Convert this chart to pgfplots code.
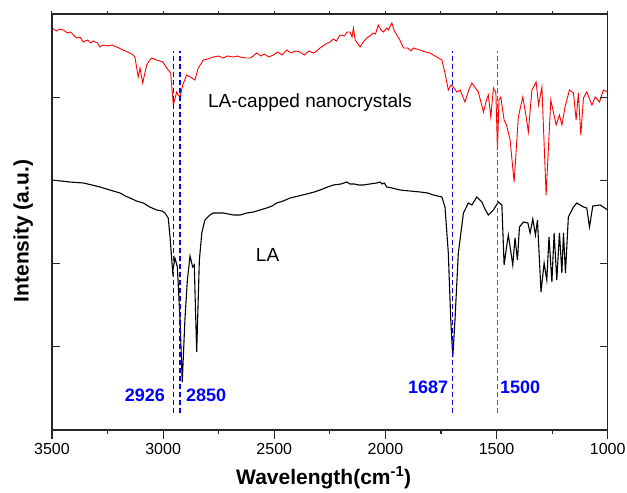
\documentclass[border=0pt]{standalone}
\usepackage{fontspec}
\setmainfont{Liberation Sans}
\usepackage{pgfplots}
\pgfplotsset{compat=1.18}
\usepackage{pgfplotstable}

\pgfplotstableread{
x y
3500 402
3480 399
3465 401
3449 400
3430 397
3415 398
3404 395
3390 392
3375 393
3359 388
3340 390
3325 387
3314 389
3295 387
3285 383
3269 385
3250 384
3230 385
3209 383
3190 381
3170 379
3149 377
3135 375
3127 373
3112 353
3104 362
3092 347
3074 365
3060 370
3051 372
3030 370
3015 369
3001 368
2984 362
2966 357
2954 325
2939 338
2932 335
2924 333
2912 345
2894 355
2871 352
2857 350
2842 362
2819 370
2800 371
2774 373
2750 374
2730 372
2710 374
2684 373
2665 374
2654 373
2630 372
2609 372
2595 374
2579 377
2560 374
2545 376
2525 373
2504 375
2485 378
2465 375
2444 380
2425 377
2405 379
2384 378
2364 375
2345 379
2324 377
2310 379
2294 382
2275 385
2260 387
2249 388
2235 391
2220 389
2204 395
2185 394
2172 398
2159 398
2150 393
2144 402
2136 390
2114 383
2100 388
2084 392
2070 394
2054 397
2045 396
2032 405
2020 400
2009 398
1995 402
1987 400
1978 404
1971 407
1962 400
1949 395
1935 390
1919 382
1900 382
1885 379
1874 382
1860 381
1844 380
1820 378
1799 377
1770 373
1746 370
1732 357
1717 340
1705 345
1694 343
1679 338
1664 340
1642 328
1625 340
1611 347
1595 342
1582 338
1559 318
1545 330
1537 335
1526 313
1514 342
1503 337
1496 280
1489 330
1481 333
1466 310
1455 305
1439 290
1421 248
1402 313
1382 333
1368 315
1357 298
1341 340
1322 348
1311 325
1296 343
1277 235
1256 330
1232 305
1217 315
1206 305
1192 323
1172 340
1154 337
1142 310
1132 337
1121 295
1109 332
1094 338
1071 325
1056 333
1037 328
1019 340
1000 338
}\redtable

\pgfplotstableread{
x y
3500 250
3460 249
3419 248
3390 247.5
3359 247
3320 245
3284 243
3240 240
3194 237
3170 234
3149 232
3120 229
3089 227
3060 223
3029 220
3005 219
2992 217
2977 212
2969 193
2957 158
2947 172
2936 163
2924 110
2914 48
2902 110
2891 150
2879 174
2867 163
2860 165
2849 78
2837 170
2826 197
2812 210
2790 215
2774 217
2729 217
2684 215
2654 215
2624 217
2594 218
2564 220
2534 222
2510 224
2489 227
2460 229
2429 232
2390 234
2354 236
2320 238
2294 240
2260 243
2234 245
2200 246
2174 248
2159 246
2140 246
2120 245
2099 245
2070 246
2039 247
2024 248
2015 246
2005 247
1994 243
1970 242
1934 240
1890 239
1844 238
1810 237
1784 235
1746 233
1732 223
1717 177
1706 110
1697 73
1687 110
1672 177
1649 217
1627 227
1611 225
1589 233
1566 228
1550 220
1537 215
1514 220
1492 228
1476 225
1466 165
1457 180
1447 195
1427 165
1417 192
1406 170
1397 203
1379 208
1359 207
1349 197
1337 211
1325 195
1316 210
1300 138
1286 167
1274 150
1264 193
1251 148
1241 197
1229 150
1217 197
1206 157
1199 197
1190 157
1177 213
1154 223
1139 227
1109 223
1094 222
1082 203
1067 224
1034 225
1000 220
}\blacktable

\begin{document}
\begin{tikzpicture}
\useasboundingbox (-52pt,-63pt) rectangle (575pt,430pt);
% main axis: bottom x ticks outside, labels, data
\begin{axis}[
  width=555.7pt, height=416pt, scale only axis,
  at={(0,0)}, anchor=south west,
  xmin=1000, xmax=3500, ymin=0, ymax=416,
  x dir=reverse,
  axis line style={line width=1.3pt, black!85},
  tick style={line width=1.2pt, black!85},
  tick align=outside,
  xtick={1000,1500,...,3500},
  minor xtick={1250,1750,...,3250},
  xtick pos=left,
  ytick=\empty,
  major tick length=9pt, minor tick length=4pt,
  xticklabel style={font=\fontsize{16}{19}\selectfont, yshift=-1pt},
  /pgf/number format/assume math mode=true,
  /pgf/number format/set thousands separator={},
  xlabel={Wavelength(cm\textsuperscript{-1})},
  xlabel style={font=\fontsize{21}{24}\selectfont\bfseries, at={(axis description cs:0.489,-0.115)}, anchor=center},
  ylabel={Intensity (a.u.)},
  ylabel style={font=\fontsize{21}{24}\selectfont\bfseries, at={(axis description cs:-0.052,0.478)}, anchor=center},
  clip=false,
]
\addplot[red, line width=0.9pt] table[x=x,y=y] {\redtable};
\addplot[black, line width=1.1pt] table[x=x,y=y] {\blacktable};
\addplot[blue, line width=1.1pt, dash pattern=on 5pt off 3pt] coordinates {(2954,17) (2954,379)};
\addplot[blue, line width=1.1pt, dash pattern=on 5pt off 3pt] coordinates {(2924,17) (2924,379)};
\addplot[blue, line width=1.1pt, dash pattern=on 5pt off 3pt] coordinates {(1697,17) (1697,379)};
\addplot[blue!70, line width=1.1pt, dash pattern=on 5pt off 3pt] coordinates {(1496,17) (1496,379)};
\node[font=\fontsize{18}{21}\selectfont\bfseries, text=blue] at (axis cs:3082,35) {2926};
\node[font=\fontsize{18}{21}\selectfont\bfseries, text=blue] at (axis cs:2807,35) {2850};
\node[font=\fontsize{18}{21}\selectfont\bfseries, text=blue] at (axis cs:1808,43) {1687};
\node[font=\fontsize{18}{21}\selectfont\bfseries, text=blue] at (axis cs:1394,43) {1500};
\node[font=\fontsize{19}{22}\selectfont] at (axis cs:2339,327) {LA-capped nanocrystals};
\node[font=\fontsize{19}{22}\selectfont] at (axis cs:2530,175) {LA};
\end{axis}
% y ticks inside, both sides
\begin{axis}[
  width=555.7pt, height=416pt, scale only axis,
  at={(0,0)}, anchor=south west,
  xmin=1000, xmax=3500, ymin=0, ymax=416,
  x dir=reverse,
  axis line style={line width=1.3pt, black!85},
  tick style={line width=1.2pt, black!85},
  tick align=inside,
  xtick=\empty,
  ytick={83.2,166.4,249.6,332.8},
  yticklabels={},
  ytick pos=both,
  major tick length=8pt,
]
\end{axis}
% small top ticks
\begin{axis}[
  width=555.7pt, height=416pt, scale only axis,
  at={(0,0)}, anchor=south west,
  xmin=1000, xmax=3500, ymin=0, ymax=416,
  x dir=reverse,
  axis line style={line width=1.3pt, black!85},
  tick style={line width=1.0pt, black!85},
  tick align=outside,
  xtick={1000,1500,...,3500},
  minor xtick={1250,1750,...,3250},
  xticklabels={},
  xtick pos=right,
  ytick=\empty,
  major tick length=3pt, minor tick length=3pt,
]
\end{axis}
\end{tikzpicture}
\end{document}
